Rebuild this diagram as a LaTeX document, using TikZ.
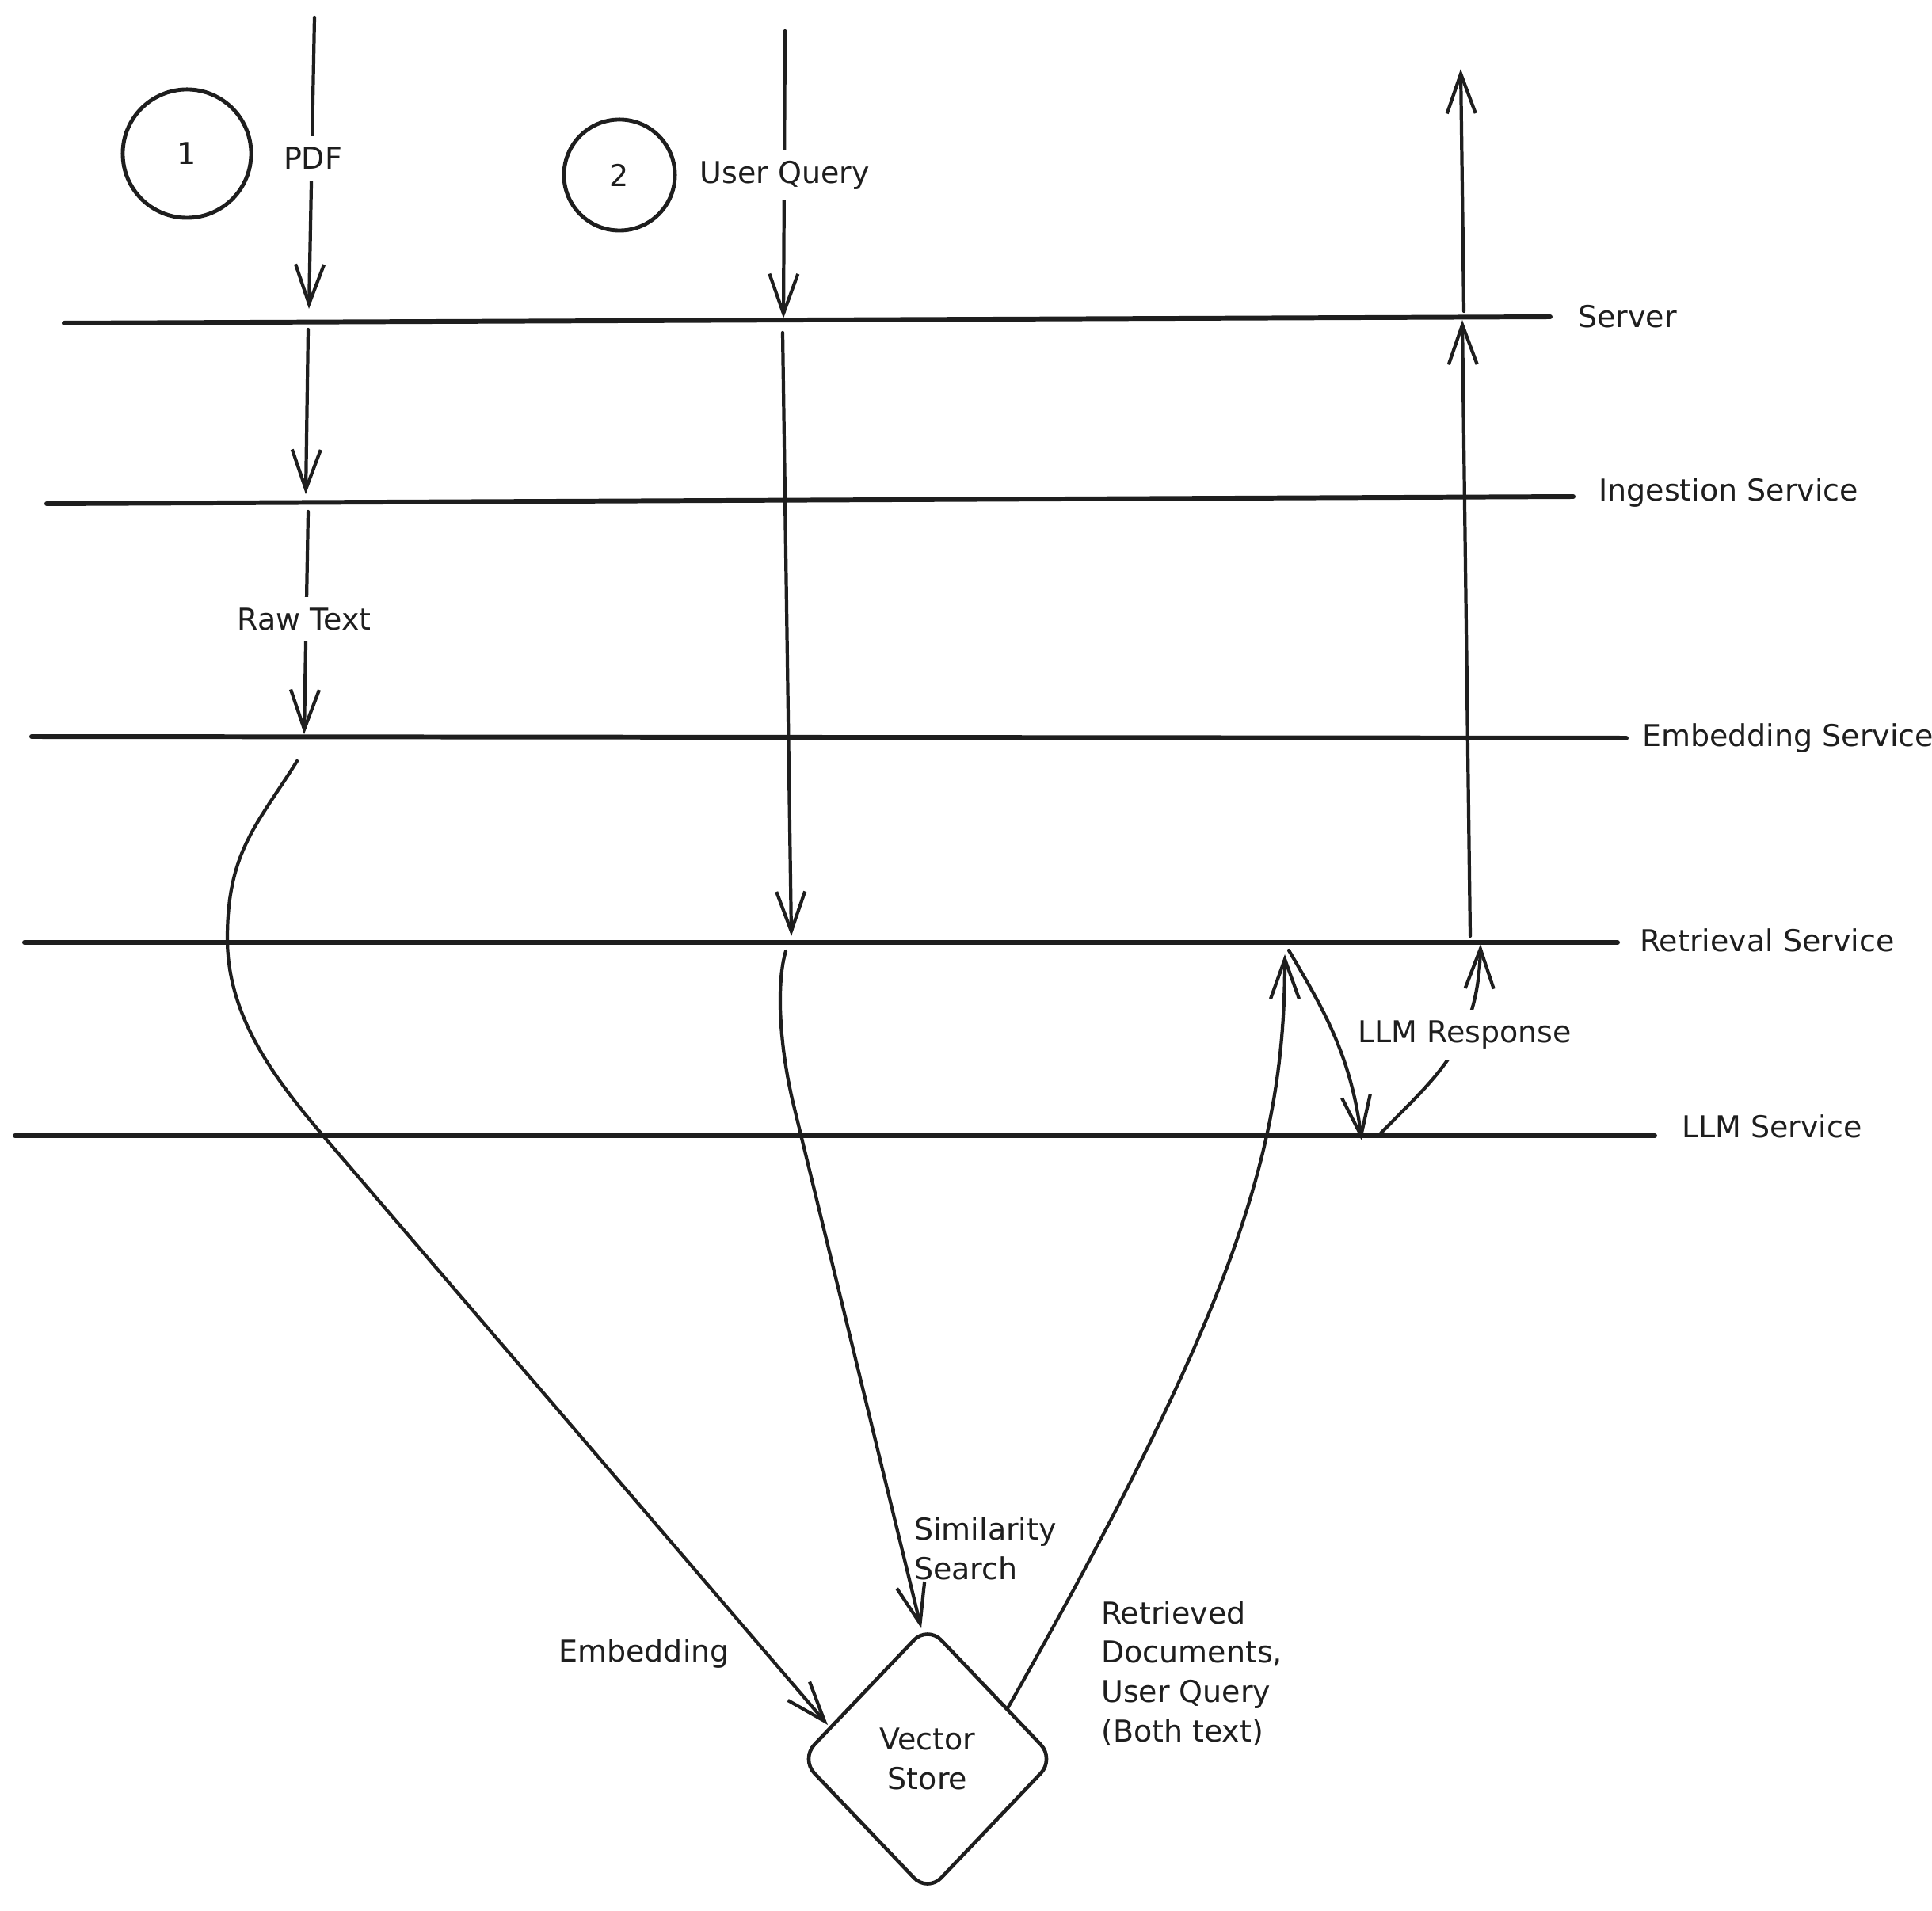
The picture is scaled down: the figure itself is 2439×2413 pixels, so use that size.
\documentclass[tikz,border=0pt]{standalone}
\usepackage{fontspec}
\setmainfont{DejaVu Sans}
\usetikzlibrary{arrows.meta,shapes.geometric}
\definecolor{ink}{HTML}{1E1E1E}
\begin{document}
\begin{tikzpicture}[x=0.01cm,y=-0.01cm,
  lane/.style={line width=1.7pt, line cap=round, draw=ink},
  flow/.style={line width=1.2pt, line cap=round, draw=ink,
    -{Straight Barb[length=0.5cm,width=0.36cm,line width=1.2pt]}},
  lbl/.style={font=\fontsize{10.8}{14.2}\selectfont, text=ink, inner sep=1pt},
  onarrow/.style={lbl, fill=white, inner sep=4pt},
  numcircle/.style={circle, draw=ink, line width=1.4pt, inner sep=0pt,
    font=\fontsize{10.8}{14.2}\selectfont, text=ink},
  store/.style={diamond, draw=ink, line width=1.3pt, rounded corners=0.25cm,
    minimum width=3.22cm, minimum height=3.38cm, inner sep=0pt, align=center,
    font=\fontsize{10.8}{14.2}\selectfont, text=ink}]
\useasboundingbox (0,0) rectangle (2439,2413);

% lanes
\coordinate (srvL) at (81,408);  \coordinate (srvR) at (1957,400);
\coordinate (ingL) at (59,636);  \coordinate (ingR) at (1986,627);
\coordinate (embL) at (40,930);  \coordinate (embR) at (2053,932);
\coordinate (retL) at (31,1190); \coordinate (retR) at (2042,1190);
\coordinate (llmL) at (19,1434); \coordinate (llmR) at (2089,1434);
\draw[lane] (srvL) -- (srvR);
\draw[lane] (ingL) -- (ingR);
\draw[lane] (embL) -- (embR);
\draw[lane] (retL) -- (retR);
\draw[lane] (llmL) -- (llmR);
\node[lbl, anchor=west] (tServer) at (1988,400) {Server};
\node[lbl, anchor=west] (tIng) at (2014,622) {Ingestion Service};
\node[lbl, anchor=west] (tEmb) at (2069,932) {Embedding Service};
\node[lbl, anchor=west] (tRet) at (2066,1187) {Retrieval Service};
\node[lbl, anchor=west] (tLlm) at (2119,1422) {LLM Service};

% step circles
\node[numcircle, minimum size=1.62cm] (c1) at (236,194) {1};
\node[numcircle, minimum size=1.40cm] (c2) at (782,221) {2};

% PDF path
\coordinate (pdfTop) at (397,22);   \coordinate (pdfSrv) at (390,390);
\coordinate (pdfA) at (389,416);    \coordinate (pdfIng) at (386,624);
\coordinate (pdfB) at (389,646);    \coordinate (pdfEmb) at (384,927);
\draw[flow] (pdfTop) -- (pdfSrv);
\node[onarrow] (tPdf) at (395,200) {PDF};
\draw[flow] (pdfA) -- (pdfIng);
\draw[flow] (pdfB) -- (pdfEmb);
\node[onarrow] (tRaw) at (384,782) {Raw Text};

% vector store
\node[store] (vs) at (1171,2221) {Vector\\Store};

% embedding curve
\coordinate (embS) at (375,961);
\coordinate (embM) at (287,1185);
\coordinate (embN) at (413,1440);
\coordinate (embE) at (1045,2178);
\draw[flow] (embS) .. controls (325,1041) and (287,1075) .. (embM)
  .. controls (287,1285) and (348,1364) .. (embN) -- (embE);
\node[lbl] (tEmbd) at (813,2088) {Embedding};

% user query path
\coordinate (uqTop) at (991,39);   \coordinate (uqSrv) at (989,402);
\coordinate (uqA) at (988,420);    \coordinate (uqRet) at (999,1182);
\draw[flow] (uqTop) -- (uqSrv);
\node[onarrow] (tUq) at (991,221) {User Query};
\draw[flow] (uqA) -- (uqRet);

% similarity search
\coordinate (simS) at (992,1201);
\coordinate (simM) at (1003,1400);
\coordinate (simE) at (1163,2056);
\draw[flow] (simS) .. controls (980,1240) and (983,1320) .. (simM) -- (simE);
\node[lbl, anchor=west, align=left] (tSim) at (1150,1955) {Similarity\\Search};

% retrieved documents
\coordinate (rdS) at (1272,2157);
\coordinate (rdE) at (1622,1205);
\draw[flow] (rdS) .. controls (1560,1650) and (1622,1450) .. (rdE);
\node[lbl, anchor=west, align=left] (tRd) at (1386,2113)
  {Retrieved\\Documents,\\User Query\\(Both text)};

% LLM response
\coordinate (lrS) at (1742,1432);
\coordinate (lrE) at (1869,1192);
\draw[flow] (lrS) .. controls (1810,1362) and (1866,1320) .. (lrE);
\node[onarrow] (tLr) at (1849,1307) {LLM Response};

% retrieval to LLM
\coordinate (toLlmS) at (1627,1200);
\coordinate (toLlmE) at (1719,1440);
\draw[flow] (toLlmS) .. controls (1668,1270) and (1705,1330) .. (toLlmE);

% response back up
\coordinate (upS) at (1856,1182); \coordinate (upSrv) at (1846,404);
\coordinate (outS) at (1848,393); \coordinate (outE) at (1844,87);
\draw[flow] (upS) -- (upSrv);
\draw[flow] (outS) -- (outE);
\end{tikzpicture}
\end{document}
